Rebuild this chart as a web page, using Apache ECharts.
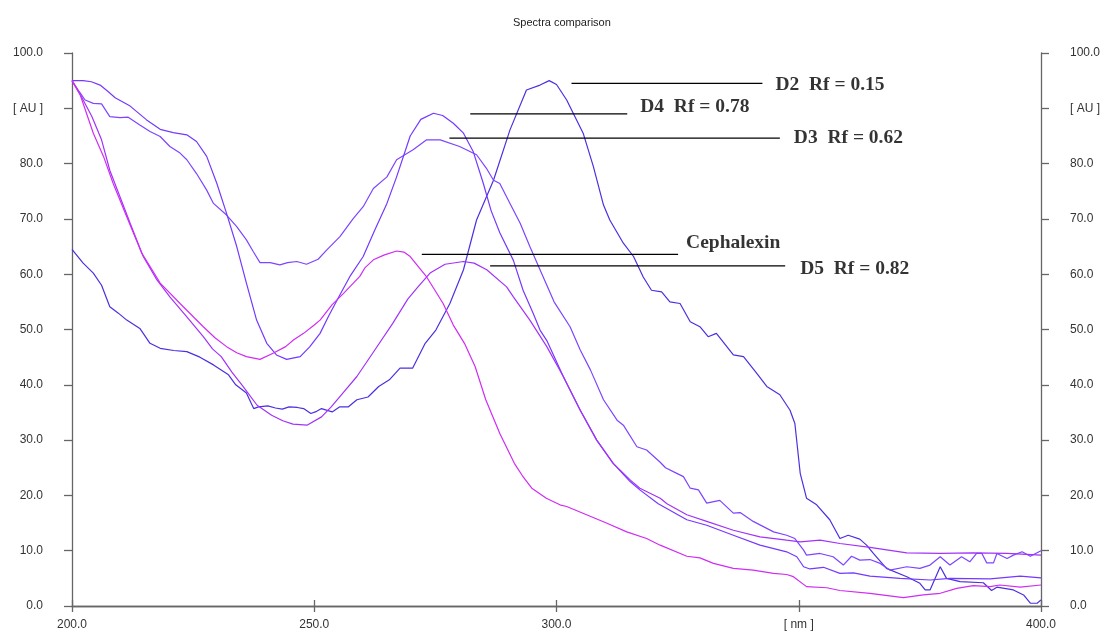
<!DOCTYPE html>
<html>
<head>
<meta charset="utf-8">
<script src="https://cdn.jsdelivr.net/npm/echarts@6/dist/echarts.min.js"></script>
<style>
html,body{margin:0;padding:0;background:#fff;}
#chart{width:1105px;height:637px;}
</style>
</head>
<body>
<div id="chart"></div>
<script>
// ---- data (wavelength nm, absorbance AU) ----
var titleText = 'Spectra comparison';
var xTicks = [200, 250, 300, 350, 400];
var yTicks = [0, 10, 20, 30, 40, 50, 60, 70, 80, 90, 100];

var d2 = [[200,64.5],[202.3,62],[204.4,60.2],[206.1,58],[207.8,54.1],[209.5,53],[211.3,51.7],[214,50.2],[216.1,47.5],[218.2,46.6],[221,46.2],[223.7,46],[226.4,45],[229.2,43.6],[232.3,41.8],[233.8,40],[236,38.5],[237.5,35.7],[238.5,36],[240.4,36.2],[242,35.8],[243.4,35.6],[244.8,36],[246.5,35.9],[247.8,35.7],[249.3,34.8],[250.5,35.2],[251.5,35.7],[253.7,35.1],[255.2,36],[257,36],[258.8,37.3],[261.1,37.8],[263.3,39.7],[265.5,40.9],[267.7,43],[270.3,43],[272.9,47.5],[275.1,49.9],[278,54.7],[280.8,60.8],[283.5,69.8],[287,77],[290.4,86.1],[293.8,93.3],[296.6,94.2],[298.5,95],[300,94.3],[302.1,91.5],[305.5,85.5],[307.6,79.5],[309.7,72.5],[311,69.8],[313.8,65.6],[315.9,63.2],[317.9,59.5],[319.6,57.1],[321.7,56.8],[323.4,55],[325.5,54.7],[327.6,51.4],[329.6,50.5],[331.3,48.7],[333,49.3],[336.5,45.4],[338.6,45.1],[341.3,42.1],[343.4,39.7],[346.1,38.2],[348.2,35.4],[349.2,33],[350.3,24],[351.6,19.5],[353.7,18.3],[356.4,15.6],[358.5,12.2],[360.2,12.8],[362.6,12.1],[364,11],[365.4,9.5],[368.1,6.8],[372.3,5.3],[375,4.1],[376.1,2.9],[377.1,2.9],[379.2,7.1],[380.5,5],[383.3,4.4],[388.1,4.2],[389.8,2.8],[390.9,3.4],[394.3,2.9],[396.4,2],[397.8,0.5],[399.2,0.5],[400,1.1]];

var d3 = [[200,95],[201.5,93],[202.7,91.5],[204.4,90.9],[206.1,90.8],[207.8,88.5],[209.9,88.3],[211.6,88.4],[214,87],[216.1,85.8],[218.2,84.9],[220.2,83.1],[222.3,81.9],[223.7,80.7],[225.7,78.2],[227.8,75.2],[229.2,72.8],[231.9,70.7],[234,68.6],[236,66.2],[237.4,64.1],[238.8,62.1],[240.9,62.1],[242.9,61.7],[244.5,62.1],[246.4,62.3],[248.4,61.8],[250.8,62.7],[252.6,64.4],[255.3,66.8],[258,70],[260.1,72.2],[262.2,75.5],[265,77.6],[267,80.7],[270.4,82.5],[273.2,84.3],[276,84.3],[280,83.1],[283.5,81.6],[285.5,79.2],[287,77],[288.3,76.4],[290.4,72.8],[292.5,69.2],[294.5,65],[296.6,60.8],[299.5,55],[302.8,50.5],[304.9,46.3],[307,42.7],[309.7,37.3],[312.5,33.6],[313.8,32.7],[316.6,28.8],[318.6,28.2],[321.4,26],[322.5,25],[324.1,24.3],[326.2,23.4],[327.6,21.3],[329.3,21],[331,18.6],[333.7,19.1],[336.5,16.8],[337.9,16.9],[340.6,15.3],[344.8,13.4],[347.5,12.8],[349.2,12.2],[351,10.1],[351.6,9.2],[354.4,9.5],[357.1,8.9],[359.2,7.4],[360.9,9],[362.6,8.3],[364.7,8.4],[366.8,7.7],[368.8,6.5],[372.3,7.1],[375,6.8],[377.1,7.4],[379.2,8.9],[381.2,7.4],[383.6,8.9],[385.3,8],[386.7,9.5],[387.8,9.5],[388.8,7.8],[390.2,7.8],[390.9,9.5],[393,8.6],[394.3,9.2],[396.1,9.8],[397.8,9],[400,10]];

var d4 = [[200,95],[202.3,95],[204,94.8],[205.8,94.2],[207.5,93],[208.9,91.9],[212,90.4],[215.4,87.9],[218.2,86.2],[220.9,85.6],[223.7,85.2],[225.7,84],[227.8,81.3],[229.9,76.4],[231.9,71],[234,65],[236,58.4],[238.1,51.7],[240.2,47.5],[242.2,45.4],[244.3,44.6],[247.1,45.1],[249.1,46.9],[251.2,49.3],[253,52.5],[255,55.8],[257.5,59.8],[260.1,63.2],[262.5,68],[265,72.8],[267,77.6],[269.8,85],[272,88],[274.6,89.1],[276.5,88.7],[278.7,87.3],[280.8,85.5],[282.8,82.2],[284.9,76.4],[286.5,71.5],[288.3,67.5],[291.1,62.5],[293.1,57.1],[295.2,52.9],[296.6,49.9],[298,48],[301.4,41.5],[304.9,35.4],[308.3,30],[311.7,25.8],[315.2,22.5],[317.2,21],[321,18.5],[326.9,15.6],[331,14.6],[336.5,12.8],[342,11],[347.5,9.8],[349.6,8.9],[351,7.1],[352.3,6.7],[355.1,7],[358.5,5.9],[361.3,6],[364.7,5.4],[370.9,5],[377.1,4.7],[381.2,5],[389.5,4.9],[395.7,5.4],[400,5.1]];

var d5 = [[200,95],[202,92],[204.1,88.5],[206.1,84.3],[207.8,78.8],[209.9,74],[212,69.2],[214.7,63.2],[217.5,59],[220.2,55.9],[223.7,52.3],[227.1,48.7],[229,46.5],[230.8,45.1],[233,42.3],[235.3,39.7],[238.2,36.3],[241.2,34.5],[243.5,33.5],[245.6,32.9],[248.5,32.7],[251.5,34.2],[253.5,36],[255.9,38.5],[258.8,41.5],[262.5,46.3],[266.2,51.1],[269.3,55.5],[271.5,57.8],[273.9,60.2],[277,61.8],[280.8,62.3],[283,62],[285.6,60.8],[289.7,57.7],[291.1,55.9],[294.5,51.7],[298,46.9],[301.4,41.5],[304.9,35.4],[308.3,30],[311.7,25.8],[315.2,22.8],[317.2,21.3],[321.4,19.5],[322.8,18.5],[326.9,16.5],[331,15.3],[336.5,13.7],[342,12.5],[347.5,11.9],[350.3,11.6],[354.4,11.9],[358.5,11.3],[364.7,10.6],[372.3,9.6],[379.2,9.5],[386,9.6],[393,9.5],[400,9.2]];

var ceph = [[200,95],[201.7,92.4],[204.4,85.5],[206.5,81.3],[208.5,76.4],[211.3,70.4],[214.4,63.8],[218.2,58.4],[222.3,54.7],[227.1,50.5],[229.5,48.5],[231.9,46.9],[234,45.8],[236,45.1],[238.8,44.6],[241.5,45.7],[244.1,46.9],[245.7,48.1],[247.8,49.3],[250,50.8],[251.2,51.7],[253.7,54.5],[256,56.5],[259.4,59.6],[260.5,61.2],[262.2,62.6],[264.5,63.5],[267,64.2],[268.5,64],[269.8,63.2],[273.2,59.5],[276.6,54.7],[278.7,50.8],[281,47.5],[283.2,43.3],[285.4,37.3],[288.3,31.2],[291.3,25.8],[293,23.5],[294.9,21.3],[297.9,19.5],[300.7,18.3],[302.1,18],[306.2,16.5],[310.3,15],[314.5,13.4],[318.6,12.2],[321.4,11],[326.9,9],[329.6,8.7],[332.4,7.7],[336.5,6.8],[340.6,6.5],[344.8,5.9],[347.5,5.7],[348.9,5.3],[351.6,3.5],[355.8,3.3],[358.5,2.8],[364.7,2.3],[371.6,1.5],[375.7,2],[379.2,2.3],[382.6,3.2],[386,3.7],[389.5,3.5],[391.5,3.8],[395.7,3.4],[400,3.8]];

// annotation leader lines
var annNames = ['D2  Rf = 0.15', 'D4  Rf = 0.78', 'D3  Rf = 0.62', 'Cephalexin', 'D5  Rf = 0.82'];
var annStart = [303.1, 282.2, 277.9, 272.2, 286.3];
var annEnd = [342.5, 314.6, 346.1, 325.1, 347.2];
var annLevel = [94.5, 89.0, 84.6, 63.6, 61.5];

// ---- styling ----
var curveDefs = [
  {name: 'D2', data: d2, color: '#4a30e0'},
  {name: 'D3', data: d3, color: '#7e44ff'},
  {name: 'D4', data: d4, color: '#7438ff'},
  {name: 'D5', data: d5, color: '#a232fa'},
  {name: 'Cephalexin', data: ceph, color: '#d02cf4'}
];
var labelOffsets = [[13, 2], [13, -7], [14, 0], [8, -11], [15, 3]];

var series = [];
curveDefs.forEach(function (c) {
  series.push({
    type: 'line', name: c.name, data: c.data, showSymbol: false, symbol: 'none',
    smooth: false, silent: true,
    lineStyle: {color: c.color, width: 1.2}
  });
});
annNames.forEach(function (n, i) {
  series.push({
    type: 'line', name: 'ann' + i, showSymbol: false, symbol: 'none', silent: true,
    data: [[annStart[i], annLevel[i]], [annEnd[i], annLevel[i]]],
    lineStyle: {color: '#000', width: 1.2}
  });
  series.push({
    type: 'scatter', name: 'lab' + i, silent: true, symbolSize: 0,
    data: [[annEnd[i], annLevel[i]]],
    label: {
      show: true, position: 'right', distance: 0, offset: labelOffsets[i],
      formatter: n, color: '#000', fontFamily: 'Liberation Serif, Times New Roman, serif',
      fontWeight: 'bold', fontSize: 19.5
    }
  });
});

var axisCol = '#666';
var labelStyle = {color: '#333', fontSize: 12, fontFamily: 'Liberation Sans, Arial, sans-serif'};

var chart = echarts.init(document.getElementById('chart'), null, {renderer: 'canvas'});
chart.setOption({
  animation: false,
  backgroundColor: '#fff',
  title: {
    text: titleText, left: 508, top: 12,
    textStyle: {fontSize: 11, fontWeight: 'normal', color: '#222', fontFamily: 'Liberation Sans, Arial, sans-serif'}
  },
  grid: {left: 72, right: 64, top: 53, bottom: 31, containLabel: false},
  xAxis: [{
    type: 'value', min: xTicks[0], max: xTicks[xTicks.length - 1], interval: 50, position: 'bottom',
    axisLine: {show: true, lineStyle: {color: axisCol, width: 1.3}},
    axisTick: {show: true, length: 6, lineStyle: {color: axisCol, width: 1.3}},
    splitLine: {show: false},
    axisLabel: Object.assign({margin: 13, formatter: function (v) { return v === 350 ? '[ nm ]' : v.toFixed(1); }}, labelStyle)
  }, {
    type: 'value', min: xTicks[0], max: xTicks[xTicks.length - 1], interval: 50, position: 'top',
    axisLine: {show: true, lineStyle: {color: axisCol, width: 1.3}},
    axisTick: {show: true, length: 6, lineStyle: {color: axisCol, width: 1.3}},
    splitLine: {show: false}, axisLabel: {show: false}
  }],
  yAxis: [{
    type: 'value', min: yTicks[0], max: yTicks[yTicks.length - 1], interval: 10, position: 'left',
    axisLine: {show: true, lineStyle: {color: axisCol, width: 1.3}},
    axisTick: {show: true, length: 8, lineStyle: {color: axisCol, width: 1.3}},
    splitLine: {show: false},
    axisLabel: Object.assign({margin: 29, formatter: function (v) { return v === 90 ? '[ AU ]' : v.toFixed(1); }}, labelStyle)
  }, {
    type: 'value', min: yTicks[0], max: yTicks[yTicks.length - 1], interval: 10, position: 'right',
    axisLine: {show: true, lineStyle: {color: axisCol, width: 1.3}},
    axisTick: {show: true, length: 8, lineStyle: {color: axisCol, width: 1.3}},
    splitLine: {show: false},
    axisLabel: Object.assign({margin: 29, formatter: function (v) { return v === 90 ? '[ AU ]' : v.toFixed(1); }}, labelStyle)
  }],
  series: series
});
</script>
</body>
</html>
